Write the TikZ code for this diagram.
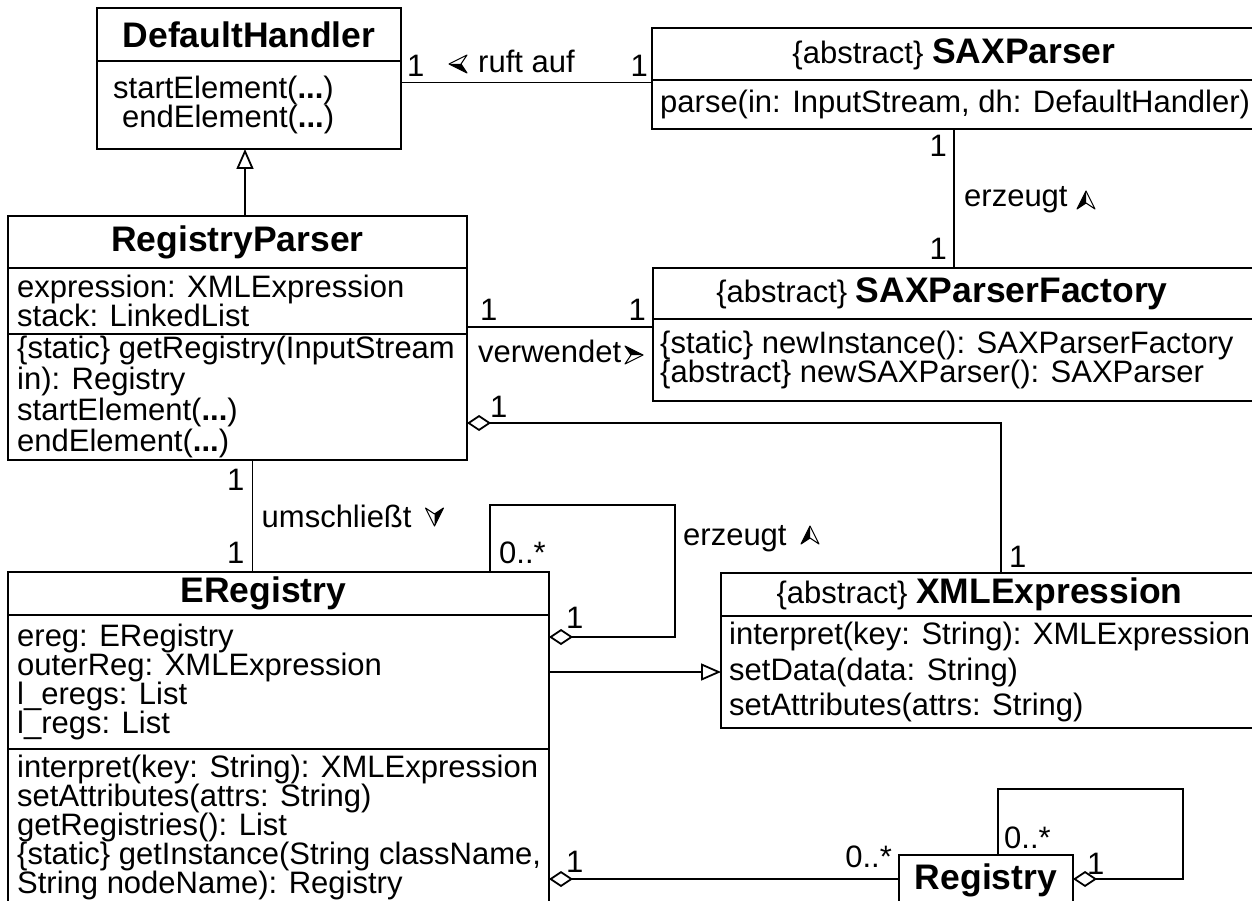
\documentclass[tikz,border=0pt]{standalone}
\usepackage{fontspec}
\setmainfont{Liberation Sans}
\usetikzlibrary{arrows.meta,calc,positioning}

\newcommand{\clsname}[1]{{\fontsize{35.5}{36}\selectfont\bfseries #1}}
% reading direction head: #1 centre, #2 rotation (0 = right, 90 = down)
\newcommand{\navarrow}[2]{%
  \begin{scope}[shift={#1},rotate=#2]
    \draw[line width=1pt, line join=round, fill=white] (9,0) -- (-9,-9) -- (-3,0) -- (-9,9) -- cycle;
    \fill (9,0) -- (-9,-9) -- (-3,0) -- cycle;
  \end{scope}}

\tikzset{
  comp/.style={draw, line width=1.2pt, outer sep=0pt, inner sep=0pt, anchor=north west},
  head/.style={comp, font=\fontsize{31}{29}\selectfont},
  txt/.style={inner sep=0pt, align=left, font=\fontsize{31}{29}\selectfont},
  lbl/.style={inner sep=0pt, font=\fontsize{31}{29}\selectfont},
  assoc/.style={line width=1.2pt},
  aggr/.style={line width=1.2pt, {Diamond[open,length=24pt,width=16pt,line width=1.8pt]}-},
  gen/.style={line width=1.2pt, -{Triangle[open,length=20pt,width=17pt,line width=1.8pt]}}
}

\begin{document}
\begin{tikzpicture}[x=1pt,y=1pt,yscale=-1]
\useasboundingbox (0,0) rectangle (1252,901);

% classes
\node[head, minimum width=304pt, minimum height=53pt] (dhHead) at (97,8) {\clsname{DefaultHandler}};
\node[comp, minimum width=304pt, minimum height=88pt] (dhOps) at (dhHead.south west) {};
\node[txt, right=16pt of dhOps.west] (dhOpsT) {startElement(\textbf{...})\\\hspace*{9pt}endElement(\textbf{...})};

\node[head, minimum width=604pt, minimum height=52pt] (spHead) at (652,28) {\{abstract\} \clsname{SAXParser}};
\node[comp, minimum width=604pt, minimum height=49pt] (spOps) at (spHead.south west) {};
\node[txt, right=8pt of spOps.west] (spOpsT) {parse(in: InputStream, dh: DefaultHandler)};

\node[head, minimum width=459pt, minimum height=52pt] (rpHead) at (8,216) {\clsname{RegistryParser}};
\node[comp, minimum width=459pt, minimum height=66pt] (rpAttr) at (rpHead.south west) {};
\node[comp, minimum width=459pt, minimum height=126pt] (rpOps) at (rpAttr.south west) {};
\node[txt, right=9pt of rpAttr.west] (rpAttrT) {expression: XMLExpression\\stack: LinkedList};
\node[txt, right=9pt of rpOps.west, font=\fontsize{31}{31}\selectfont] (rpOpsT) {\{static\} getRegistry(InputStream\\in): Registry\\startElement(\textbf{...})\\endElement(\textbf{...})};

\node[head, minimum width=603pt, minimum height=51pt] (spfHead) at (653,268) {\{abstract\} \clsname{SAXParserFactory}\kern25pt};
\node[comp, minimum width=603pt, minimum height=82pt] (spfOps) at (spfHead.south west) {};
\node[txt, right=7pt of spfOps.west, font=\fontsize{31}{28.5}\selectfont] (spfOpsT) {\{static\} newInstance(): SAXParserFactory\\\{abstract\} newSAXParser(): SAXParser};

\node[head, minimum width=541pt, minimum height=43pt] (erHead) at (8,572) {\clsname{ERegistry}\kern30pt};
\node[comp, minimum width=541pt, minimum height=134pt] (erAttr) at (erHead.south west) {};
\node[comp, minimum width=541pt, minimum height=156pt] (erOps) at (erAttr.south west) {};
\node[txt, right=9pt of erAttr.west] (erAttrT) {ereg: ERegistry\\outerReg: XMLExpression\\l\_eregs: List\\l\_regs: List};
\node[txt, right=9pt of erOps.west] (erOpsT) {interpret(key: String): XMLExpression\\setAttributes(attrs: String)\\getRegistries(): List\\\{static\} getInstance(String className,\\String nodeName): Registry};

\node[head, minimum width=535pt, minimum height=43pt] (xeHead) at (721,573) {\{abstract\} \clsname{XMLExpression}\kern18pt};
\node[comp, minimum width=535pt, minimum height=112pt] (xeOps) at (xeHead.south west) {};
\node[txt, right=8pt of xeOps.west, font=\fontsize{31}{35.5}\selectfont] (xeOpsT) {interpret(key: String): XMLExpression\\setData(data: String)\\setAttributes(attrs: String)};

\node[head, minimum width=174pt, minimum height=50pt] (regHead) at (899,855) {\clsname{Registry}};

% ruft auf
\draw[assoc] ($(dhOps.north east)+(0,21.5)$) coordinate (ra1) -- (ra1 -| spOps.west) coordinate (ra2);
\node[lbl, anchor=base west] (raM1) at ($(ra1)+(6,-5.5)$) {1};
\node[lbl, anchor=base east] (raM2) at ($(ra2)+(-4,-5.5)$) {1};
\node[lbl, anchor=base west] (raL) at ($(ra1)+(77,-9.5)$) {ruft auf};
\navarrow{($(ra1)+(57,-18.5)$)}{180}

% erzeugt (SAXParser)
\draw[assoc] (spOps.south) coordinate (ez1) -- (ez1 |- spfHead.north) coordinate (ez2);
\node[lbl, anchor=base east] (ezM1) at ($(ez1)+(-7,28)$) {1};
\node[lbl, anchor=base east] (ezM2) at ($(ez2)+(-7,-8)$) {1};
\node[lbl, anchor=base west] (ezL) at ($(ez1)+(10,78)$) {erzeugt};
\navarrow{($(ez1)+(132,71)$)}{-90}

% verwendet
\draw[assoc] ($(rpAttr.north east)+(0,59)$) coordinate (vw1) -- (vw1 -| spfOps.west) coordinate (vw2);
\node[lbl, anchor=base west] (vwM1) at ($(vw1)+(13,-7)$) {1};
\node[lbl, anchor=base east] (vwM2) at ($(vw2)+(-7,-7)$) {1};
\node[lbl, anchor=base west] (vwL) at ($(vw1)+(11,35)$) {verwendet};
\navarrow{($(vw1)+(167,28)$)}{0}

% RegistryParser <>-- XMLExpression
\draw[aggr] ($(rpOps.north east)+(0,89)$) coordinate (ag1) -| ($(xeHead.north)+(12.5,0)$) coordinate (ag2);
\node[lbl, anchor=base west] (agM1) at ($(ag1)+(23,-6)$) {1};
\node[lbl, anchor=base west] (agM2) at ($(ag2)+(8,-6)$) {1};

% umschliesst
\draw[assoc] ($(rpOps.south)+(15,0)$) coordinate (um1) -- (um1 |- erHead.north) coordinate (um2);
\node[lbl, anchor=base east] (umM1) at ($(um1)+(-8,30)$) {1};
\node[lbl, anchor=base east] (umM2) at ($(um2)+(-8,-9)$) {1};
\node[lbl, anchor=base west] (umL) at ($(um1)+(9,67)$) {umschließt};
\navarrow{($(um1)+(182,57)$)}{90}

% ERegistry self association
\draw[aggr] ($(erAttr.north east)+(0,22)$) coordinate (sl1) -- ++(126,0) |- ($(erHead.north east)+(-59,-67)$) -- ($(erHead.north east)+(-59,0)$) coordinate (sl2);
\node[lbl, anchor=base west] (slM1) at ($(sl2)+(9,-9)$) {0..*};
\node[lbl, anchor=base west] (slM2) at ($(sl1)+(17,-9)$) {1};
\node[lbl, anchor=base west] (slL) at ($(sl1)+(134,-92)$) {erzeugt};
\navarrow{($(sl1)+(261,-102)$)}{-90}

% generalizations
\draw[gen] ($(erAttr.north east)+(0,57)$) coordinate (ge1) -- (ge1 -| xeOps.west);
\draw[gen] ($(rpHead.north)+(7.5,0)$) coordinate (gr1) -- (gr1 |- dhOps.south);

% ERegistry <>-- Registry
\draw[aggr] ($(erOps.north east)+(0,130)$) coordinate (rr1) -- (rr1 -| regHead.west) coordinate (rr2);
\node[lbl, anchor=base west] (rrM1) at ($(rr1)+(17,-7)$) {1};
\node[lbl, anchor=base east] (rrM2) at ($(rr2)+(-7,-12)$) {0..*};

% Registry self association
\draw[aggr] ($(regHead.north east)+(0,24)$) coordinate (rs1) -- ++(110,0) |- ($(regHead.north east)+(-75,-66)$) -- ($(regHead.north east)+(-75,0)$) coordinate (rs2);
\node[lbl, anchor=base west] (rsM1) at ($(rs2)+(6,-7)$) {0..*};
\node[lbl, anchor=base west] (rsM2) at ($(rs1)+(14,-5)$) {1};
\end{tikzpicture}
\end{document}
